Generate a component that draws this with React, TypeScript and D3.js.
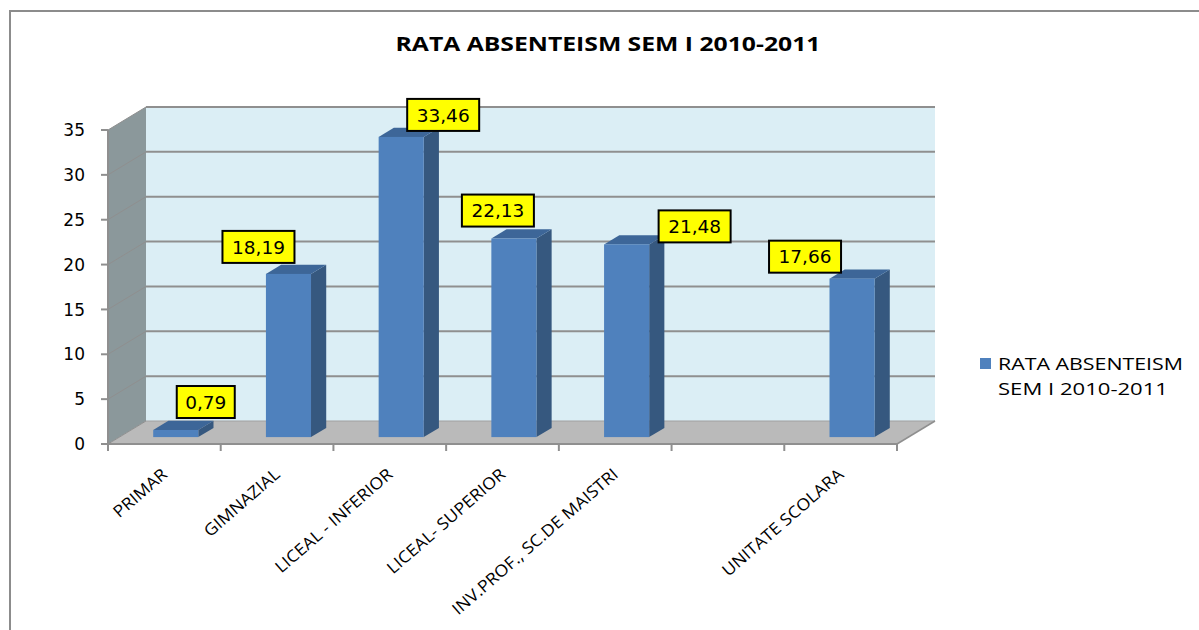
import React from "react";
import * as d3 from "d3";

const title = "RATA ABSENTEISM SEM I 2010-2011";
const seriesName = ["RATA ABSENTEISM", "SEM I 2010-2011"];
const categories = [
  "PRIMAR",
  "GIMNAZIAL",
  "LICEAL - INFERIOR",
  "LICEAL- SUPERIOR",
  "INV.PROF., SC.DE MAISTRI",
  "",
  "UNITATE SCOLARA",
];
const values: (number | null)[] = [0.79, 18.19, 33.46, 22.13, 21.48, null, 17.66];
const valueLabels = ["0,79", "18,19", "33,46", "22,13", "21,48", "", "17,66"];
const yTicks = [0, 5, 10, 15, 20, 25, 30, 35];
// manual label placement (box centre x offset from bar, gap above bar top)
const labelDx = [30, -30, 42, -16, 68, 0, -47];
const labelGap = [12, 11, 6, 12, 2, 0, 6];

const W = 1199;
const H = 630;
const X0 = 108;
const X1 = 897;
const DX = 38;
const DY = -23;
const BAR_F0 = 0.3;
const BAR_F1 = 0.7;

export default function App() {
  const keys = categories.map((_, i) => String(i));
  const x = d3.scaleBand<string>().domain(keys).range([X0, X1]).paddingInner(0.6).paddingOuter(0.3);
  const step = x.step();
  const y = d3.scaleLinear().domain([0, 35]).range([444, 130]);
  const bw = x.bandwidth();
  const yb = (v: number, f: number) => y(v) + f * DY;
  const pts = (arr: [number, number][]) => arr.map((p) => p.join(",")).join(" ");

  const grid = "#8f8f8f";
  const fontD = "'DejaVu Sans', Verdana, sans-serif";
  const fontC = "'Open Sans', 'Noto Sans', sans-serif";

  return (
    <svg width={W} height={H} style={{ position: "absolute", left: 0, top: 0, background: "#fff" }}>
      <rect x={10} y={11} width={1210} height={640} fill="#fff" stroke="#8c8c8c" strokeWidth={2} />
      <text x={608} y={51} textAnchor="middle" fontFamily={fontC} fontWeight="bold" fontSize={20} textLength={425} lengthAdjust="spacingAndGlyphs" fill="#000">
        {title}
      </text>

      {/* back wall */}
      <rect x={X0 + DX} y={yb(35, 1)} width={X1 - X0} height={y(0) - y(35)} fill="#dbeef5" />
      {/* left wall */}
      <polygon points={pts([[X0, y(35)], [X0 + DX, yb(35, 1)], [X0 + DX, yb(0, 1)], [X0, y(0)]])} fill="#8b989b" />
      {/* floor */}
      <polygon points={pts([[X0, y(0)], [X1, y(0)], [X1 + DX, yb(0, 1)], [X0 + DX, yb(0, 1)]])} fill="#bababa" />

      {/* gridlines */}
      {yTicks.map((t) => (
        <g key={t}>
          {t > 0 && (
            <line x1={X0 + DX} x2={X1 + DX} y1={yb(t, 1)} y2={yb(t, 1)} stroke={grid} strokeWidth={2} />
          )}
          <line x1={X0} x2={X0 + DX} y1={y(t)} y2={yb(t, 1)} stroke={grid} strokeWidth={1} />
        </g>
      ))}
      <line x1={X0 + DX} x2={X1 + DX} y1={yb(0, 1)} y2={yb(0, 1)} stroke="#a0a0a0" strokeWidth={1} />

      {/* y axis */}
      <line x1={X0} x2={X0} y1={y(35)} y2={y(0)} stroke={grid} strokeWidth={2} />
      {yTicks.map((t) => (
        <g key={"t" + t}>
          <line x1={X0 - 7} x2={X0} y1={y(t)} y2={y(t)} stroke={grid} strokeWidth={2} />
          <text x={85} y={y(t)} dy="0.36em" textAnchor="end" fontFamily={fontD} fontSize={17} fill="#000">
            {t}
          </text>
        </g>
      ))}
      {/* x axis */}
      <line x1={X0} x2={X1} y1={y(0)} y2={y(0)} stroke={grid} strokeWidth={2} />
      <line x1={X1} x2={X1 + DX} y1={y(0)} y2={yb(0, 1)} stroke={grid} strokeWidth={1.5} />
      {d3.range(categories.length + 1).map((i) => (
        <line key={"xt" + i} x1={X0 + i * step} x2={X0 + i * step} y1={y(0)} y2={y(0) + 7} stroke={grid} strokeWidth={2} />
      ))}

      {/* bars */}
      {values.map((v, i) => {
        if (v == null) return null;
        const bx = (x(keys[i]) as number) + BAR_F0 * DX;
        const top = yb(v, BAR_F0);
        const base = yb(0, BAR_F0);
        const ddx = (BAR_F1 - BAR_F0) * DX;
        const ddy = (BAR_F1 - BAR_F0) * DY;
        return (
          <g key={"b" + i}>
            <polygon points={pts([[bx + bw, top], [bx + bw + ddx, top + ddy], [bx + bw + ddx, base + ddy], [bx + bw, base]])} fill="#36587f" />
            <polygon points={pts([[bx, top], [bx + bw, top], [bx + bw + ddx, top + ddy], [bx + ddx, top + ddy]])} fill="#3d6698" />
            <rect x={bx} y={top} width={bw} height={base - top} fill="#4f81bd" />
          </g>
        );
      })}

      {/* data labels */}
      {values.map((v, i) => {
        if (v == null) return null;
        const cx = (x(keys[i]) as number) + BAR_F0 * DX + bw / 2 + labelDx[i];
        const bottom = yb(v, BAR_F0) - labelGap[i];
        const lbl = valueLabels[i];
        const w = lbl.length > 4 ? 72 : 58;
        const h = 32;
        return (
          <g key={"l" + i}>
            <rect x={cx - w / 2} y={bottom - h} width={w} height={h} fill="#ffff00" stroke="#000" strokeWidth={2} />
            <text x={cx} y={bottom - h / 2} dy="0.36em" textAnchor="middle" fontFamily={fontD} fontSize={18.5} fill="#000">
              {lbl}
            </text>
          </g>
        );
      })}

      {/* category labels */}
      {categories.map((c, i) => {
        const cx = (x(keys[i]) as number) + bw / 2 + 4;
        return (
          <text key={"c" + i} transform={`translate(${cx},476) rotate(-41) scale(1.08,1)`} textAnchor="end" fontFamily={fontC} fontSize={16.5} fill="#000">
            {c}
          </text>
        );
      })}

      {/* legend */}
      <rect x={980} y={358} width={11} height={11} fill="#4f81bd" />
      <text x={998} y={370} fontFamily={fontC} fontSize={17} textLength={185} lengthAdjust="spacingAndGlyphs" fill="#000">
        {seriesName[0]}
      </text>
      <text x={998} y={395} fontFamily={fontC} fontSize={17} textLength={170} lengthAdjust="spacingAndGlyphs" fill="#000">
        {seriesName[1]}
      </text>
    </svg>
  );
}
